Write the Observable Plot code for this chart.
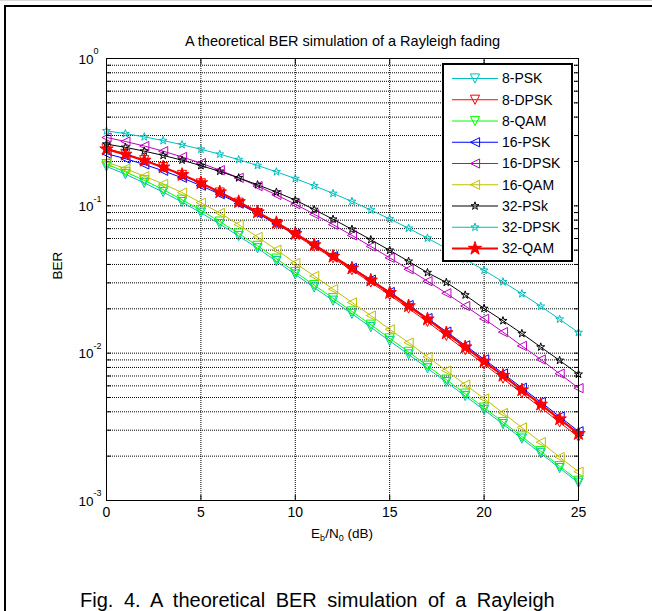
<!DOCTYPE html>
<html><head><meta charset="utf-8">
<script src="https://cdn.jsdelivr.net/npm/d3@7"></script>
<script src="https://cdn.jsdelivr.net/npm/@observablehq/plot@0.6"></script>
<style>
html,body{margin:0;padding:0;background:#fff;}
#wrap{position:relative;width:652px;height:611px;overflow:hidden;background:#fff;font-family:"Liberation Sans",Arial,sans-serif;}
#chart{position:absolute;left:0;top:0;}
#frameTop{position:absolute;left:4px;top:5px;width:660px;height:2px;background:#000;}
#frameLeft{position:absolute;left:4px;top:5px;width:2px;height:620px;background:#000;}
#topLine{position:absolute;left:0;top:0;width:652px;height:1px;background:#d8d8d8;}
#xlabel{position:absolute;left:242px;width:200px;top:526px;text-align:center;font-size:13.5px;color:#000;}
#xlabel sub{font-size:9px;vertical-align:-3px;line-height:0;}
#caption{position:absolute;left:80px;top:589px;font-size:20px;word-spacing:5px;color:#000;white-space:nowrap;}
</style></head>
<body><div id="wrap"><div id="topLine"></div><div id="chart"></div><div id="frameTop"></div><div id="frameLeft"></div>
<div id="xlabel">E<sub>b</sub>/N<sub>0</sub> (dB)</div>
<div id="caption">Fig. 4. A theoretical BER simulation of a Rayleigh</div>
</div>
<script>
// ---------- data ----------
const ebno = [0,1,2,3,4,5,6,7,8,9,10,11,12,13,14,15,16,17,18,19,20,21,22,23,24,25];
const ber8PSK   = [0.185,0.164,0.143,0.124,0.106,0.0898,0.0752,0.0624,0.0515,0.0421,0.0342,0.0279,0.0227,0.0185,0.0150,0.0121,0.00980,0.00789,0.00636,0.00512,0.00412,0.00330,0.00263,0.00209,0.00166,0.00132];
const ber8DPSK  = [0.245,0.225,0.204,0.183,0.162,0.142,0.123,0.105,0.0893,0.0753,0.0632,0.0529,0.0441,0.0366,0.0302,0.0248,0.0201,0.0163,0.0131,0.0105,0.00841,0.00672,0.00535,0.00427,0.00339,0.00270];
const ber8QAM   = [0.192,0.170,0.149,0.129,0.110,0.0933,0.0782,0.0649,0.0535,0.0438,0.0355,0.0290,0.0236,0.0192,0.0156,0.0126,0.0102,0.00820,0.00661,0.00531,0.00427,0.00341,0.00272,0.00216,0.00171,0.00136];
const ber16PSK  = [0.226,0.209,0.191,0.173,0.155,0.137,0.120,0.1035,0.0886,0.0755,0.0646,0.0543,0.0455,0.0379,0.0315,0.0260,0.0212,0.0173,0.0140,0.0113,0.00908,0.00728,0.00582,0.00466,0.00371,0.00295];
const ber16DPSK = [0.291,0.2735,0.2547,0.2350,0.2148,0.1950,0.1746,0.1549,0.1361,0.1186,0.1026,0.0877,0.0745,0.0630,0.0530,0.0444,0.0371,0.0308,0.0255,0.0209,0.0171,0.0139,0.0112,0.00906,0.00726,0.00579];
const ber16QAM  = [0.198,0.179,0.159,0.141,0.123,0.105,0.0895,0.0746,0.0615,0.0504,0.0409,0.0334,0.0272,0.0221,0.0180,0.0145,0.0118,0.00945,0.00762,0.00612,0.00492,0.00393,0.00313,0.00249,0.00197,0.00157];
const ber32PSK  = [0.2624,0.2495,0.2350,0.2198,0.2042,0.1875,0.1714,0.1549,0.1390,0.1239,0.1094,0.0944,0.0811,0.0693,0.0589,0.0499,0.0420,0.0352,0.0302,0.0248,0.0201,0.0166,0.0136,0.0110,0.00893,0.00719];
const ber32DPSK = [0.3228,0.3090,0.2938,0.2773,0.2600,0.2421,0.2240,0.2058,0.1879,0.1702,0.1531,0.1368,0.1214,0.1071,0.0937,0.0815,0.0704,0.0604,0.0514,0.0435,0.0365,0.0305,0.0253,0.0208,0.0170,0.0138];
const ber32QAM  = [0.2427,0.2234,0.2032,0.1828,0.1626,0.1429,0.1239,0.1064,0.0906,0.0767,0.0646,0.0542,0.0453,0.0377,0.0312,0.0257,0.0209,0.0170,0.0137,0.0110,0.00881,0.00705,0.00562,0.00449,0.00357,0.00284];

const seriesNames  = ["8-PSK","8-DPSK","8-QAM","16-PSK","16-DPSK","16-QAM","32-PSk","32-DPSK","32-QAM"];
const seriesValues = [ber8PSK,ber8DPSK,ber8QAM,ber16PSK,ber16DPSK,ber16QAM,ber32PSK,ber32DPSK,ber32QAM];
const seriesColors = ["#00bfbf","#ff0000","#00ff00","#0000ff","#bf00bf","#bfbf00","#000000","#00bfbf","#ff0000"];
const seriesMarkers= ["down","down","down","left","left","left","star","star","star"];
const xTicks = [0,5,10,15,20,25];
const yDecades = [1,0.1,0.01,0.001];
const yExponents = ["0","-1","-2","-3"];
const titleText = "A theoretical BER simulation of a Rayleigh fading";
const yLabel = "BER";

// ---------- marker shapes ----------
const triDown = {draw(ctx, size){ const h = Math.sqrt(size/Math.PI); ctx.moveTo(-h,-h); ctx.lineTo(h,-h); ctx.lineTo(0,h); ctx.closePath(); }};
const triLeft = {draw(ctx, size){ const h = Math.sqrt(size/Math.PI); ctx.moveTo(-h,0); ctx.lineTo(h,-h); ctx.lineTo(h,h); ctx.closePath(); }};
const symbolFor = {down: triDown, left: triLeft, star: d3.symbolStar};

const rows = [];
seriesNames.forEach((name, s) => ebno.forEach((x, i) => rows.push({name, s, x, y: seriesValues[s][i]})));

// minor tick/grid positions
const minorVals = [];
yDecades.slice(1).forEach(d => { for (let k = 2; k <= 9; k++) minorVals.push(d*k); });
const allY = yDecades.concat(minorVals);

const gridStyle = {stroke:"#000", strokeWidth:1, strokeDasharray:"1,1"};

const marks = [
  Plot.ruleY(minorVals, gridStyle),
  Plot.ruleY(yDecades.slice(1,3), gridStyle),
  Plot.ruleX(xTicks.slice(1,5), gridStyle),
  Plot.axisY({ticks: allY, anchor:"left", tickSize:-5, tickFormat: () => "", label:null}),
  Plot.axisY({ticks: allY, anchor:"right", tickSize:-5, tickFormat: () => "", label:null}),
  Plot.axisX({ticks: xTicks, anchor:"bottom", tickSize:-5, tickFormat: () => "", label:null}),
  Plot.axisX({ticks: xTicks, anchor:"top", tickSize:-5, tickFormat: () => "", label:null}),
  Plot.axisX({ticks: xTicks, anchor:"bottom", tickSize:0, tickPadding:7, fontSize:14, label:null}),
  Plot.text(yDecades, {y: d => d, frameAnchor:"left", text: () => "10", textAnchor:"end", dx:-13, dy:1, fontSize:13.5}),
  Plot.text(yDecades, {y: d => d, frameAnchor:"left", text: (d,i) => yExponents[i], textAnchor:"start", dx:-13, dy:-7, fontSize:9}),
  Plot.text([titleText], {frameAnchor:"top", text: d => d, dy:-23, fontSize:14.5}),
  Plot.text([yLabel], {frameAnchor:"left", text: d => d, rotate:-90, dx:-49, fontSize:13.5}),
];
seriesNames.forEach((name, s) => {
  const data = rows.filter(r => r.s === s);
  const isBig = name === "32-QAM";
  marks.push(Plot.line(data, {x:"x", y:"y", stroke: seriesColors[s], strokeWidth: isBig ? 2.2 : 1}));
  const m = seriesMarkers[s];
  marks.push(Plot.dot(data, {x:"x", y:"y", symbol: symbolFor[m], r: m === "star" ? (isBig ? 4.2 : 2.5) : 4.6,
    stroke: seriesColors[s], fill: isBig ? seriesColors[s] : "none", strokeWidth: 1}));
});
marks.push(Plot.frame({stroke:"#000", strokeWidth:1}));

const chart = Plot.plot({
  width: 652, height: 611,
  marginLeft: 106, marginRight: 74, marginTop: 58, marginBottom: 111,
  style: {fontFamily: '"Liberation Sans", Arial, sans-serif', fontSize:"13px", color:"#000", background:"transparent"},
  x: {domain:[0,25], axis:null},
  y: {type:"log", domain:[0.001,1], axis:null},
  marks
});
document.getElementById("chart").appendChild(chart);

// ---------- legend ----------
const svg = d3.select(chart);
const lg = svg.append("g");
const lx = 443, ly = 64, lw = 129, lh = 197, rowH = 21.25;
lg.append("rect").attr("x", lx).attr("y", ly).attr("width", lw).attr("height", lh)
  .attr("fill", "#fff").attr("stroke", "#000").attr("stroke-width", 2);
seriesNames.forEach((name, s) => {
  const cy = ly + 14.5 + s*rowH;
  const isBig = name === "32-QAM";
  const m = seriesMarkers[s];
  const r = m === "star" ? (isBig ? 4.2 : 2.5) : 4.6;
  lg.append("line").attr("x1", lx+9).attr("x2", lx+55).attr("y1", cy).attr("y2", cy)
    .attr("stroke", seriesColors[s]).attr("stroke-width", isBig ? 2.2 : 1);
  lg.append("path").attr("transform", `translate(${lx+32},${cy})`)
    .attr("d", d3.symbol(symbolFor[m], Math.PI*r*r)())
    .attr("stroke", seriesColors[s]).attr("fill", isBig ? seriesColors[s] : "none");
  lg.append("text").attr("x", lx+59).attr("y", cy).attr("dy", "0.35em")
    .attr("text-anchor", "start").attr("font-size", 14).attr("fill", "#000").text(name);
});
</script>
</body></html>
